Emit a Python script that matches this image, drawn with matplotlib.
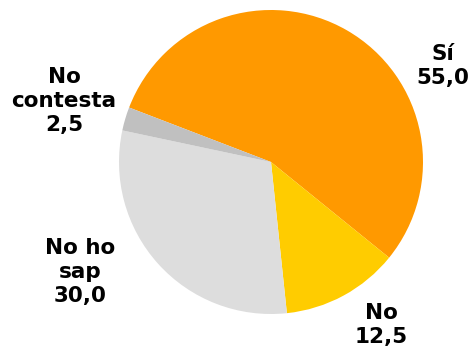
import matplotlib
matplotlib.use("Agg")
import matplotlib.pyplot as plt

labels = ["Sí", "No", "No ho\nsap", "No\ncontesta"]
values = [55.0, 12.5, 30.0, 2.5]
colors = ["#FF9900", "#FFCC00", "#DDDDDD", "#C0C0C0"]

# label anchor points, in pixel units of the figure (y up)
label_pos = [(443, 283), (381, 24), (80, 77), (64, 248)]


def main():
    fig = plt.figure(figsize=(4.71, 3.49), dpi=100)
    ax = fig.add_axes([0, 0, 1, 1])

    ax.pie(values, colors=colors, startangle=159, counterclock=False,
           center=(271, 187), radius=152, frame=True)
    ax.set_xlim(0, 471)
    ax.set_ylim(0, 349)
    ax.axis("off")

    for lab, v, (x, y) in zip(labels, values, label_pos):
        txt = lab + "\n" + f"{v:.1f}".replace(".", ",")
        ax.text(x, y, txt, ha="center", va="center", fontsize=15.5,
                fontweight="bold", family="DejaVu Sans", color="black",
                linespacing=1.25)

    fig.savefig("out.png", dpi=100)


if __name__ == '__main__':
    main()
